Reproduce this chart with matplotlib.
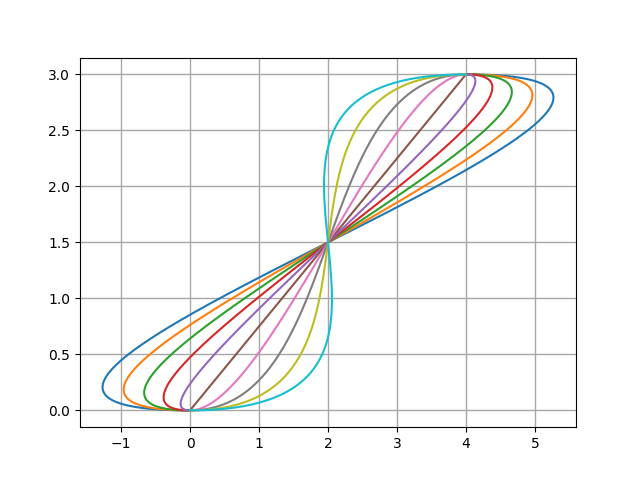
import numpy as np
import matplotlib.pyplot as plt

# cubic bezier from (0,0) to (4,3), control points (c,0) and (4-c,3)
start = (0.0, 0.0)
end = (4.0, 3.0)
ctrl_x = [-5.625, -4.5, -3.375, -2.25, -1.125, 0.0, 1.125, 2.25, 3.375, 4.5]


def bezier(p0, p1, p2, p3, t):
    return ((1 - t) ** 3 * p0 + 3 * (1 - t) ** 2 * t * p1
            + 3 * (1 - t) * t ** 2 * p2 + t ** 3 * p3)


t = np.linspace(0, 1, 300)
fig, ax = plt.subplots(figsize=(6.4, 4.8), dpi=100)
for c in ctrl_x:
    x = bezier(start[0], c, end[0] - c, end[0], t)
    y = bezier(start[1], start[1], end[1], end[1], t)
    ax.plot(x, y)

ax.grid(True, color='#a8a8a8', linewidth=1)
ax.set_axisbelow(True)
fig.savefig('out.png')
